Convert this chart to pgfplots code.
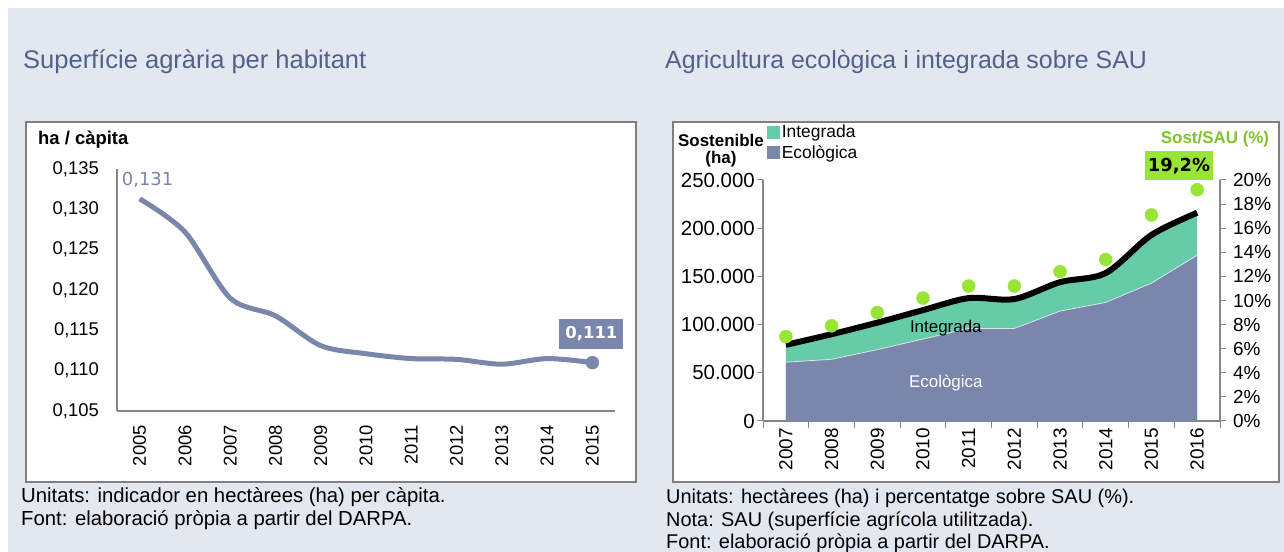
\documentclass[border=0pt]{standalone}
\usepackage{fontspec}
\setmainfont{Liberation Sans}
\newfontfamily\dejavu{DejaVu Sans}
\usepackage{pgfplots}
\usepackage{pgfplotstable}
\pgfplotsset{compat=1.18}
\definecolor{bg}{HTML}{E3E7EF}
\definecolor{titlec}{HTML}{52608B}
\definecolor{slate}{HTML}{7A86AC}
\definecolor{aqua}{HTML}{66CCA8}
\definecolor{lime}{HTML}{99E535}
\definecolor{axgray}{HTML}{868686}
\definecolor{boxgray}{HTML}{7F7F7F}
\newcommand{\fs}[1]{\fontsize{#1}{#1}\selectfont}

\pgfplotstableread{
i year v
0 2005 0.1313
1 2006 0.1272
2 2007 0.1190
3 2008 0.1168
4 2009 0.1131
5 2010 0.1121
6 2011 0.1115
7 2012 0.1114
8 2013 0.1108
9 2014 0.1115
10 2015 0.1110
}\tabA

\pgfplotstableread{
i year e g pct
0 2007 61000 18000 7.0
1 2008 64000 26000 7.9
2 2009 74000 28000 9.0
3 2010 85000 30000 10.2
4 2011 96000 31500 11.2
5 2012 96000 30500 11.2
6 2013 114000 30000 12.4
7 2014 123000 30500 13.4
8 2015 143000 50000 17.1
9 2016 172000 44000 19.2
}\tabB

\begin{document}
\begin{tikzpicture}[x=1bp,y=1bp]
\fill[white] (0,0) rectangle (1284,552);
\fill[bg] (8,0) rectangle (1284,544);

% titles
\node[anchor=west, inner sep=0pt, text=titlec, font=\fs{25.6}] at (23,490) {Superfície agrària per habitant};
\node[anchor=west, inner sep=0pt, text=titlec, font=\fs{25}] at (665,490) {Agricultura ecològica i integrada sobre SAU};

% boxes
\filldraw[fill=white, draw=boxgray, line width=1.5bp] (26,70) rectangle (636,430);
\filldraw[fill=white, draw=boxgray, line width=1.5bp] (673,70) rectangle (1279,430);

% footnotes
\node[anchor=west, inner sep=0pt, font=\fs{20.4}] at (21,55) {Unitats: indicador en hectàrees (ha) per càpita.};
\node[anchor=west, inner sep=0pt, font=\fs{20.4}] at (21,32) {Font: elaboració pròpia a partir del DARPA.};
\node[anchor=west, inner sep=0pt, font=\fs{20}] at (666,54) {Unitats: hectàrees (ha) i percentatge sobre SAU (\%).};
\node[anchor=west, inner sep=0pt, font=\fs{20}] at (666,31) {Nota: SAU (superfície agrícola utilitzada).};
\node[anchor=west, inner sep=0pt, font=\fs{20}] at (666,9) {Font: elaboració pròpia a partir del DARPA.};

% left chart
\node[anchor=west, inner sep=0pt, font=\bfseries\fs{18.5}] at (38,412) {ha / càpita};
\begin{axis}[at={(117bp,141bp)}, anchor=south west, scale only axis,
  width=498bp, height=242bp,
  xmin=-0.5, xmax=10.5, ymin=0.105, ymax=0.135,
  axis x line*=bottom, axis y line*=left,
  axis line style={-, draw=axgray, line width=1.5bp},
  xtick={0,1,2,3,4,5,6,7,8,9,10},
  xticklabels={2005,2006,2007,2008,2009,2010,2011,2012,2013,2014,2015},
  ytick={0.105,0.110,0.115,0.120,0.125,0.130,0.135},
  major tick length=0pt,
  /pgf/number format/assume math mode=true,
  y tick label style={/pgf/number format/fixed, /pgf/number format/fixed zerofill,
    /pgf/number format/precision=3, /pgf/number format/use comma,
    anchor=east, inner sep=0pt},
  tick label style={font=\fs{18.5}, text=black},
  x tick label style={rotate=90, anchor=east, inner sep=0pt},
  xticklabel shift=14bp, yticklabel shift=18bp,
  clip=false]
\addplot[smooth, tension=0.5, line width=5bp, color=slate] table[x=i, y=v] {\tabA};
\addplot[only marks, mark=*, mark size=6.5bp, color=slate] coordinates {(10,0.1110)};
\node[font=\dejavu\fs{18}, text=slate, inner sep=0pt] at (axis cs:0,0.1313) [xshift=8bp, yshift=19bp] {0,131};
\node[font=\dejavu\bfseries\fs{16.5}, text=white, fill=slate, minimum width=64bp, minimum height=30bp, inner sep=0pt] at (axis cs:10,0.1110) [xshift=-1bp, yshift=29bp] {0,111};
\end{axis}

% right chart
\node[font=\bfseries\fs{17}, inner sep=0pt] at (721,412) {Sostenible};
\node[font=\bfseries\fs{17}, inner sep=0pt] at (721,393) {(ha)};
\node[font=\bfseries\fs{17}, text=lime!85!black, inner sep=0pt] at (1215,413) {Sost/SAU (\%)};
\node[font=\dejavu\bfseries\fs{18}, fill=lime, minimum width=68bp, minimum height=29bp, inner sep=0pt] at (1179,386) {19,2\%};

\begin{axis}[at={(763bp,131bp)}, anchor=south west, scale only axis,
  width=457bp, height=241bp,
  xmin=-0.5, xmax=9.5, ymin=0, ymax=250000,
  axis x line*=bottom, axis y line*=left,
  axis line style={-, draw=axgray, line width=1.5bp},
  xtick={0,1,2,3,4,5,6,7,8,9},
  xticklabels={2007,2008,2009,2010,2011,2012,2013,2014,2015,2016},
  minor xtick={-0.5,0.5,1.5,2.5,3.5,4.5,5.5,6.5,7.5,8.5,9.5},
  major x tick style={draw=none},
  minor x tick style={draw=axgray, line width=1bp},
  minor tick length=7bp,
  ytick={0,50000,100000,150000,200000,250000},
  scaled y ticks=false,
  y tick style={draw=axgray, line width=1bp},
  tick align=outside, major tick length=6bp,
  /pgf/number format/assume math mode=true,
  y tick label style={/pgf/number format/fixed, /pgf/number format/precision=0,
    /pgf/number format/1000 sep={.}, anchor=east, inner sep=0pt, font=\fs{20.5}},
  x tick label style={font=\fs{19}},
  tick label style={text=black},
  x tick label style={rotate=90, anchor=east, inner sep=0pt},
  xticklabel shift=1bp, yticklabel shift=2bp,
  legend style={at={(0.009,1.232)}, anchor=north west, draw=none, fill=none,
    font=\fs{17.5}, inner sep=0pt, row sep=4bp,
    nodes={inner xsep=1.5bp, inner ysep=1bp}},
  legend cell align=left,
  legend image code/.code={\fill[#1] (0bp,-6.5bp) rectangle (13bp,6.5bp);},
  clip=false]
\addplot[fill=aqua, draw=none] table[x=i, y expr=\thisrow{e}+\thisrow{g}] {\tabB} \closedcycle;
\addlegendentry{Integrada}
\addplot[fill=slate, draw=none] table[x=i, y=e] {\tabB} \closedcycle;
\addlegendentry{Ecològica}
\addplot[forget plot, color=white!75!slate, line width=0.8bp] table[x=i, y=e] {\tabB};
\addplot[forget plot, smooth, tension=0.5, line width=6bp, color=black] table[x=i, y expr=\thisrow{e}+\thisrow{g}] {\tabB};
\node[font=\fs{17}, inner sep=0pt] at (axis cs:3.5,96000) {Integrada};
\node[font=\fs{17}, text=white, inner sep=0pt] at (axis cs:3.5,39000) {Ecològica};
\end{axis}

\begin{axis}[at={(763bp,131bp)}, anchor=south west, scale only axis,
  width=457bp, height=241bp,
  xmin=-0.5, xmax=9.5, ymin=0, ymax=20,
  axis x line=none, axis y line*=right,
  axis line style={-, draw=axgray, line width=1.5bp},
  ytick={0,2,4,6,8,10,12,14,16,18,20},
  y tick style={draw=axgray, line width=1bp},
  tick align=outside, major tick length=6bp,
  /pgf/number format/assume math mode=true,
  yticklabel={\pgfmathprintnumber[fixed,precision=0]{\tick}\%},
  y tick label style={anchor=west, inner sep=0pt},
  tick label style={font=\fs{19}, text=black},
  yticklabel shift=7bp,
  clip=false]
\addplot[only marks, mark=*, mark size=6.5bp, color=lime] table[x=i, y=pct] {\tabB};
\end{axis}

\pgfresetboundingbox
\path[use as bounding box] (0,0) rectangle (1284,552);
\end{tikzpicture}
\end{document}
